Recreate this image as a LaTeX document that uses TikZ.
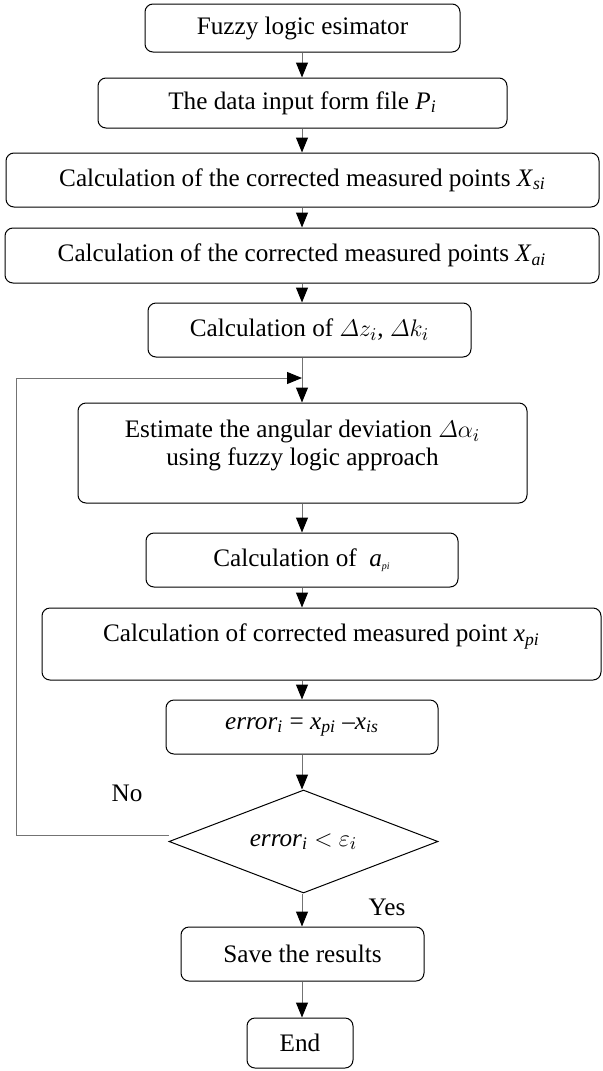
\documentclass[tikz,border=0pt]{standalone}
\usepackage{amsmath}
\usepackage{fontspec}
\setmainfont{Liberation Serif}
\usetikzlibrary{arrows.meta,shapes.geometric}
\newcommand{\ivar}[2]{\textit{#1}\textsubscript{\textit{#2}}}
\begin{document}
\begin{tikzpicture}[x=0.5pt, y=-0.5pt, line width=0.5pt,
  every node/.style={font=\fontsize{12.6}{14}\selectfont},
  box/.style={draw, rounded corners=4pt, minimum height=27pt, inner sep=0pt, align=center},
  arr/.style={draw=black!55, -{Triangle[width=6pt,length=7.5pt,black]}}]
  \useasboundingbox (0,0) rectangle (603,1071);
  \coordinate (axis) at (302,0);
  \node[box, minimum width=157.5pt, minimum height=24pt] (start) at (302.5,28) {Fuzzy logic esimator};
  \node[box, minimum width=204.5pt, minimum height=25pt] (input) at (302.5,103) {The data input form file \ivar{P}{i}};
  \node[box, minimum width=296.5pt] (xsi) at (302.5,180) {Calculation of the corrected measured points \ivar{X}{si}};
  \node[box, minimum width=297pt, minimum height=27.5pt] (xai) at (302,255.5) {Calculation of the corrected measured points \ivar{X}{ai}};
  \node[box, minimum width=161.5pt] (dz) at (309.5,330) {Calculation of $\varDelta z_i$, $\varDelta k_i$};
  \node[box, minimum width=224.5pt, minimum height=50pt, text depth=10pt] (est) at (302.5,453) {Estimate the angular deviation $\varDelta\alpha_i$\\ using fuzzy logic approach};
  \node[box, minimum width=156pt] (api) at (302,560) {Calculation of \ \ivar{a}{\tiny pi}};
  \node[box, minimum width=279.5pt, minimum height=36pt, text depth=11pt] (xpi) at (321.5,644) {Calculation of corrected measured point \ivar{x}{pi}};
  \node[box, minimum width=136pt] (err) at (302,727) {\ivar{error}{i} = \ivar{x}{pi} --\ivar{x}{is}};
  \node[diamond, draw, aspect=2.6, inner sep=0pt, minimum width=134.5pt, minimum height=51.5pt] (check) at (303.5,841.5) {\ivar{error}{i} $<$ $\varepsilon_i$};
  \node[box, minimum width=121.5pt] (save) at (302.5,954) {Save the results};
  \node[box, minimum width=53pt, minimum height=25pt] (stop) at (300,1043) {End};
  \node (no) at (127,793) {No};
  \node (yes) at (387,907) {Yes};
  \coordinate (join) at (302,378);
  \coordinate (back) at (16,378);
  \foreach \a/\b in {start/input, input/xsi, xsi/xai, xai/dz, dz/est, est/api, api/xpi, xpi/err, err/check, check/save, save/stop} {
    \draw[arr] (\a.south -| axis) -- (\b.north -| axis);
  }
  \draw[arr] ([yshift=3pt]check.west) -| (back) -- (join);
\end{tikzpicture}
\end{document}
